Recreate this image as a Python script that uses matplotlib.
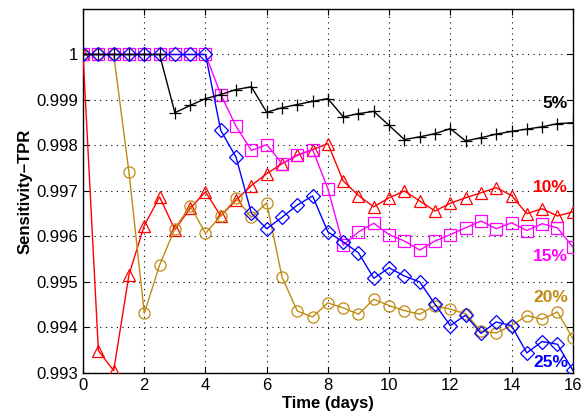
import matplotlib
matplotlib.use("Agg")
import matplotlib.pyplot as plt
import numpy as np

plt.rcParams['font.family'] = ['Liberation Sans', 'DejaVu Sans']

days = [i * 0.5 for i in range(33)]

tpr_5 = [1, 1, 1, 1, 1, 1, 0.99872, 0.99888, 0.99903, 0.99912, 0.99923, 0.99929,
         0.99873, 0.99883, 0.99890, 0.99897, 0.99903, 0.99863, 0.99870, 0.99875,
         0.99844, 0.99813, 0.99819, 0.99826, 0.99837, 0.99810, 0.99817, 0.99825,
         0.99831, 0.99836, 0.99841, 0.99848, 0.99850]
tpr_10 = [1, 0.99349, 0.99305, 0.99516, 0.99624, 0.99687, 0.99615, 0.99662, 0.99698,
          0.99645, 0.99680, 0.99712, 0.99738, 0.99760, 0.99779, 0.99791, 0.99804,
          0.99722, 0.99690, 0.99665, 0.99685, 0.99700, 0.99678, 0.99656, 0.99673,
          0.99685, 0.99696, 0.99707, 0.99690, 0.99650, 0.99661, 0.99645, 0.99654]
tpr_15 = [1, 1, 1, 1, 1, 1, 1, 1, 1, 0.99912, 0.99842, 0.99789, 0.99802, 0.99760,
          0.99778, 0.99791, 0.99705, 0.99581, 0.99610, 0.99629, 0.99604, 0.99590,
          0.99570, 0.99590, 0.99604, 0.99619, 0.99634, 0.99617, 0.99630, 0.99613,
          0.99628, 0.99619, 0.99577]
tpr_20 = [1, 1, 1, 0.99741, 0.99431, 0.99537, 0.99617, 0.99667, 0.99607, 0.99645,
          0.99684, 0.99642, 0.99674, 0.99511, 0.99436, 0.99423, 0.99454, 0.99443,
          0.99429, 0.99462, 0.99448, 0.99437, 0.99429, 0.99448, 0.99440, 0.99430,
          0.99392, 0.99388, 0.99404, 0.99426, 0.99418, 0.99434, 0.99376]
tpr_25 = [1, 1, 1, 1, 1, 1, 1, 1, 1, 0.99833, 0.99774, 0.99651, 0.99617, 0.99642,
          0.99669, 0.99689, 0.99610, 0.99588, 0.99564, 0.99508, 0.99531, 0.99513,
          0.99500, 0.99451, 0.99404, 0.99427, 0.99387, 0.99412, 0.99404, 0.99344,
          0.99369, 0.99363, 0.99306]

series_labels = ['5%', '10%', '15%', '20%', '25%']
label_y = [0.99892, 0.99708, 0.99556, 0.99466, 0.99323]
colors = ['#000000', '#ff0000', '#ff00ff', '#c08a10', '#0000ff']

x_ticks = [0, 2, 4, 6, 8, 10, 12, 14, 16]
y_ticks = [0.993, 0.994, 0.995, 0.996, 0.997, 0.998, 0.999, 1.0]
y_tick_labels = ['0.993', '0.994', '0.995', '0.996', '0.997', '0.998', '0.999', '1']

fig = plt.figure(figsize=(5.85, 4.19), dpi=100)
ax = fig.add_axes([0.142, 0.110, 0.837, 0.8685])

ax.plot(days, tpr_10, color=colors[1], marker='^', ms=9, mfc='none', lw=1, mew=0.9, zorder=3)
ax.plot(days, tpr_20, color=colors[3], marker='o', ms=8, mfc='none', lw=1, mew=0.9, zorder=3)
ax.plot(days, tpr_15, color=colors[2], marker='s', ms=8, mfc='none', lw=1, mew=0.9, zorder=3)
ax.plot(days, tpr_25, color=colors[4], marker='D', ms=7.5, mfc='none', lw=1, mew=0.9, zorder=3)
ax.plot(days, tpr_5, color=colors[0], marker='+', ms=8, lw=1, mew=0.9, zorder=3)

for lab, yy, c in zip(series_labels, label_y, colors):
    ax.text(15.85, yy, lab, color=c, fontsize=12.5, fontweight='bold', ha='right', va='center')

ax.set_xlim(0, 16)
ax.set_ylim(0.993, 1.001)
ax.set_xticks(x_ticks)
ax.set_yticks(y_ticks)
ax.set_yticklabels(y_tick_labels)
ax.tick_params(direction='in', top=True, right=True, labelsize=12, length=4, width=0.8)
ax.grid(True, linestyle=(0, (1, 4)), color='black', linewidth=0.8)
for s in ax.spines.values():
    s.set_linewidth(1)

ax.set_xlabel('Time (days)', fontsize=12, fontweight='bold', labelpad=2)
ax.set_ylabel('Sensitivity\u2013TPR', fontsize=12, fontweight='bold', labelpad=3)

fig.savefig('out.png', dpi=100)
